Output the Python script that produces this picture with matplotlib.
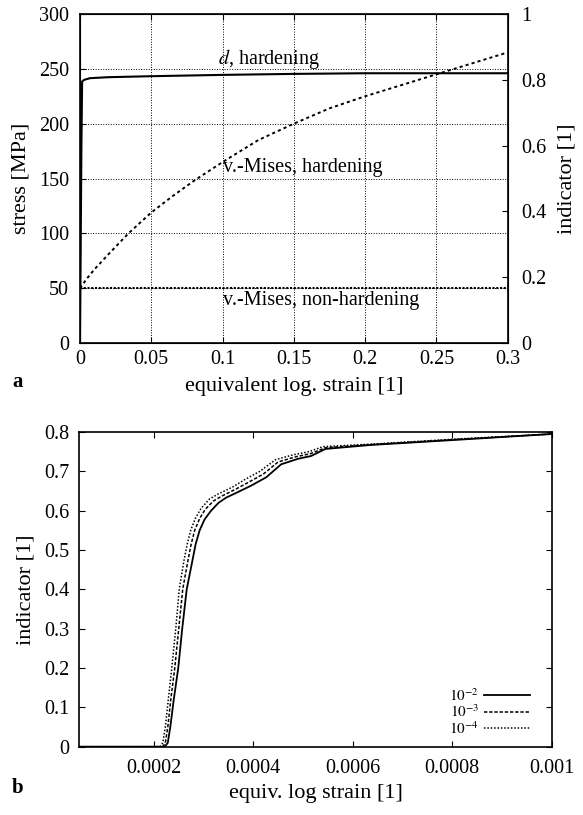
import numpy as np
import matplotlib
matplotlib.use("Agg")
import matplotlib.pyplot as plt

plt.rcParams['font.family'] = ['Liberation Serif', 'DejaVu Serif']
plt.rcParams['mathtext.fontset'] = 'stix'

# --- panel a: stress / indicator vs equivalent log. strain ---
strain_a = [0, 0.005, 0.01, 0.02, 0.034, 0.05, 0.065, 0.08, 0.1, 0.125,
            0.15, 0.175, 0.2, 0.225, 0.25, 0.275, 0.3]
stress_hard = [50, 59, 67, 81, 100, 119, 134, 148, 165, 185,
               200, 214, 225, 235, 245, 255, 265]
strain_flat = [0, 0.3]
stress_flat = [50, 50]
strain_d = [0, 0.0005, 0.001, 0.0015, 0.003, 0.007, 0.02, 0.05, 0.1, 0.15, 0.2, 0.3]
d_hard = [0, 0.3, 0.6, 0.795, 0.80, 0.805, 0.808, 0.811, 0.815, 0.818, 0.82, 0.82]

# --- panel b: indicator vs equiv. log strain for three tolerances ---
x_e2 = [0.00005, 0.000222, 0.000228, 0.000233, 0.000240, 0.000249, 0.000257, 0.000266,
        0.000277, 0.000284, 0.000292, 0.000302, 0.000315, 0.000330, 0.000345, 0.000370,
        0.000396, 0.000426, 0.000456, 0.000490, 0.000516, 0.000545, 0.000635, 0.000806, 0.001]
y_e2 = [0, 0, 0.01, 0.05, 0.12, 0.20, 0.30, 0.40, 0.47, 0.515, 0.55, 0.578, 0.60, 0.62,
        0.633, 0.648, 0.664, 0.685, 0.718, 0.732, 0.739, 0.757, 0.767, 0.780, 0.795]
x_e3 = [0.00005, 0.000218, 0.000223, 0.000228, 0.000234, 0.000242, 0.000250, 0.000258,
        0.000268, 0.000275, 0.000282, 0.000292, 0.000303, 0.000320, 0.000338, 0.000365,
        0.000390, 0.000420, 0.000450, 0.000485, 0.000515, 0.000545, 0.000635, 0.000806, 0.001]
y_e3 = [0, 0, 0.01, 0.05, 0.12, 0.20, 0.30, 0.40, 0.47, 0.515, 0.55, 0.58, 0.603, 0.625,
        0.638, 0.655, 0.672, 0.693, 0.724, 0.737, 0.745, 0.760, 0.768, 0.781, 0.795]
x_e4 = [0.00005, 0.000213, 0.000218, 0.000223, 0.000229, 0.000236, 0.000244, 0.000251,
        0.000260, 0.000267, 0.000274, 0.000284, 0.000295, 0.000312, 0.000330, 0.000358,
        0.000384, 0.000413, 0.000445, 0.000480, 0.000512, 0.000540, 0.000635, 0.000806, 0.001]
y_e4 = [0, 0, 0.01, 0.05, 0.12, 0.20, 0.30, 0.40, 0.47, 0.515, 0.55, 0.582, 0.606, 0.63,
        0.643, 0.66, 0.68, 0.70, 0.73, 0.742, 0.75, 0.763, 0.769, 0.782, 0.795]

xticks_a = [0, 0.05, 0.1, 0.15, 0.2, 0.25, 0.3]
xticklabels_a = ['0', '0.05', '0.1', '0.15', '0.2', '0.25', '0.3']
yticks_a = [0, 50, 100, 150, 200, 250, 300]
rticks_a = [0, 0.2, 0.4, 0.6, 0.8, 1]
rticklabels_a = ['0', '0.2', '0.4', '0.6', '0.8', '1']
xticks_b = [0.0002, 0.0004, 0.0006, 0.0008, 0.001]
xticklabels_b = ['0.0002', '0.0004', '0.0006', '0.0008', '0.001']
yticks_b = [0, 0.1, 0.2, 0.3, 0.4, 0.5, 0.6, 0.7, 0.8]
yticklabels_b = ['0', '0.1', '0.2', '0.3', '0.4', '0.5', '0.6', '0.7', '0.8']

fig = plt.figure(figsize=(5.83, 8.15), dpi=100)

ax = fig.add_axes([0.1372, 0.5791, 0.7336, 0.4037])
ax.plot(strain_a, stress_hard, color='black', lw=1.4, ls=(0, (1.6, 1.6)))
ax.plot(strain_flat, stress_flat, color='black', lw=1.5, ls=(0, (1, 0.8)))
ax.set_xlim(0, 0.3)
ax.set_ylim(0, 300)
ax.set_xticks(xticks_a)
ax.set_xticklabels(xticklabels_a)
ax.set_yticks(yticks_a)
ax.grid(True, color='black', lw=0.7, ls=(0, (1, 1.6)))
ax.tick_params(axis='x', direction='in', top=True, labelsize=14.5, pad=5, length=4)
ax.tick_params(axis='y', direction='in', right=False, labelsize=14.5, pad=8, length=4)
ax.set_xlabel('equivalent log. strain [1]', fontsize=16, labelpad=6)
ax.set_ylabel('stress [MPa]', fontsize=16, labelpad=6)
for s in ax.spines.values():
    s.set_linewidth(1.2)

ax.text(0.097, 248, '$d$, hardening', fontsize=14.5, va='bottom', ha='left')
ax.text(0.1, 160, 'v.-Mises, hardening', fontsize=14.5, va='center', ha='left')
ax.text(0.1, 47, 'v.-Mises, non-hardening', fontsize=14.5, va='top', ha='left')

axr = ax.twinx()
axr.plot(strain_d, d_hard, color='black', lw=1.5)
axr.set_ylim(0, 1)
axr.set_yticks(rticks_a)
axr.set_yticklabels(rticklabels_a)
axr.tick_params(axis='y', direction='in', labelsize=14.5, pad=10, length=4)
axr.set_ylabel('indicator [1]', fontsize=16, labelpad=8)

fig.text(0.03, 1 - 382 / 815, 'a', fontsize=15, fontweight='bold', va='center', ha='center')

# lower panel
bx = fig.add_axes([0.1360, 0.0838, 0.8103, 0.3861])
bx.plot(x_e2, y_e2, color='black', lw=1.3, ls='-', label='$10^{-2}$')
bx.plot(x_e3, y_e3, color='black', lw=1.1, ls=(0, (2.2, 1.2)), label='$10^{-3}$')
bx.plot(x_e4, y_e4, color='black', lw=1.1, ls=(0, (1, 1.2)), label='$10^{-4}$')
bx.set_xlim(0.00005, 0.001)
bx.set_ylim(0, 0.8)
bx.set_xticks(xticks_b)
bx.set_xticklabels(xticklabels_b)
bx.set_yticks(yticks_b)
bx.set_yticklabels(yticklabels_b)
bx.tick_params(direction='in', top=True, right=True, labelsize=14.5, length=4)
bx.tick_params(axis='x', pad=9)
bx.tick_params(axis='y', pad=7)
bx.set_xlabel('equiv. log strain [1]', fontsize=16, labelpad=4)
bx.set_ylabel('indicator [1]', fontsize=16, labelpad=6)
for s in bx.spines.values():
    s.set_linewidth(1.2)
bx.legend(loc='lower right', bbox_to_anchor=(0.966, 0.012), borderaxespad=0,
          frameon=False, markerfirst=False, fontsize=11, handlelength=3.0,
          handletextpad=0.3, labelspacing=0.0)

fig.text(0.03, 1 - 788 / 815, 'b', fontsize=15, fontweight='bold', va='center', ha='center')

fig.savefig('out.png', dpi=100)
